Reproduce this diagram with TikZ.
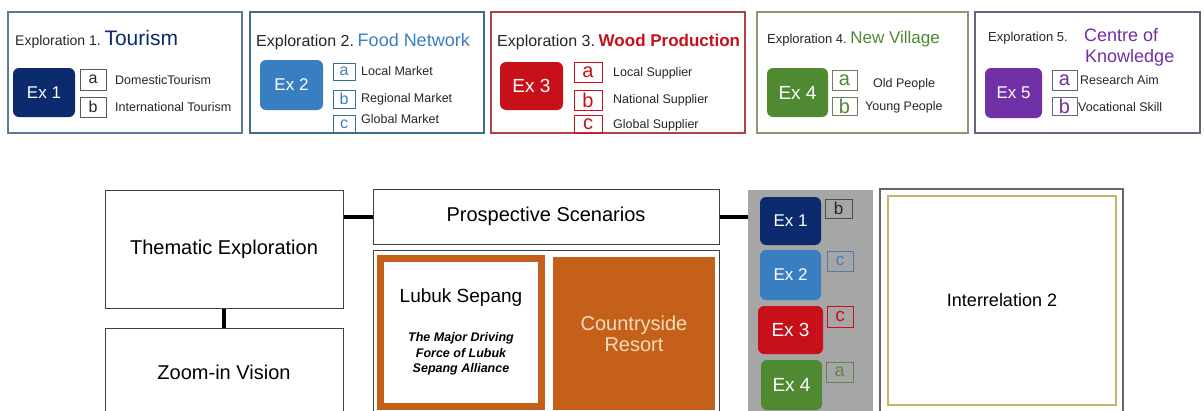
\documentclass[tikz,border=0pt]{standalone}
\usepackage{fontspec}
\setmainfont{Liberation Sans}
\definecolor{navy}{HTML}{0B2B6E}
\definecolor{exblue}{HTML}{3A7EC2}
\definecolor{exred}{HTML}{C8101A}
\definecolor{exgreen}{HTML}{4F8A32}
\definecolor{expurple}{HTML}{7230A6}
\definecolor{orng}{HTML}{C5601B}
\definecolor{cream}{HTML}{F6DCB8}
\definecolor{panelgray}{HTML}{A6A6A6}
\definecolor{goldline}{HTML}{C9B26A}
\definecolor{bdone}{HTML}{5A7A96}
\definecolor{bdtwo}{HTML}{3F6F8F}
\definecolor{bdthree}{HTML}{B0404A}
\definecolor{bdfour}{HTML}{8A9A7A}
\definecolor{bdfive}{HTML}{6E6080}
\newcommand\fsz[2]{\fontsize{#1}{#2}\selectfont}
\begin{document}
\begin{tikzpicture}[x=1pt,y=-1pt,
  topbox/.style={draw=#1, line width=1.1pt, inner sep=0pt},
  exbox/.style={fill=#1, rounded corners=6pt, text=white, inner sep=0pt, font=\fsz{17}{19}},
  letbox/.style={draw=#1, line width=0.9pt, inner sep=0pt, text=#1},
  sub/.style={anchor=west, inner sep=0pt, font=\fsz{12.5}{14}, text=black!85},
  ttl/.style={anchor=base west, inner sep=0pt, text=black!85},
  plainbox/.style={draw=black!75, line width=1pt, inner sep=0pt, fill=white},
  conn/.style={line width=4pt, black}
]
\clip (0,0) rectangle (1204,410);
\fill[white] (0,0) rectangle (1204,410);

% ---------- top row ----------
\node[topbox=bdone, minimum width=234pt, minimum height=121pt] (b1) at (125,72.5) {};
\node[topbox=bdtwo, minimum width=234pt, minimum height=121pt] (b2) at (367,72.5) {};
\node[topbox=bdthree, minimum width=254pt, minimum height=121pt] (b3) at (618,72.5) {};
\node[topbox=bdfour, minimum width=211pt, minimum height=121pt] (b4) at (862.5,72.5) {};
\node[topbox=bdfive, minimum width=225pt, minimum height=121pt] (b5) at (1087.5,72.5) {};

% titles
\node[ttl] (t1) at (15,45) {{\fsz{14}{16}Exploration 1.} {\fsz{21}{24}\color{navy}Tourism}};
\node[ttl] (t2) at (256,46) {{\fsz{16}{18}Exploration 2.} {\fsz{18}{20}\color{exblue}Food Network}};
\node[ttl] (t3) at (497,46) {{\fsz{16}{18}Exploration 3.} {\fsz{17}{20}\bfseries\color{exred}Wood Production}};
\node[ttl] (t4) at (767,43) {{\fsz{13}{15}Exploration 4.} {\fsz{17}{20}\color{exgreen}New Village}};
\node[ttl] (t5) at (988,41) {\fsz{13}{15}Exploration 5.};
\node[ttl, text=expurple] (t5b) at (1084,41) {\fsz{18}{20}Centre of};
\node[ttl, text=expurple] (t5c) at (1085,62) {\fsz{18}{20}Knowledge};

% Ex boxes
\node[exbox=navy, minimum width=62pt, minimum height=49pt] (e1) at (44,92.5) {Ex 1};
\node[exbox=exblue, minimum width=63pt, minimum height=50pt] (e2) at (291.5,85) {Ex 2};
\node[exbox=exred, minimum width=63pt, minimum height=48pt, font=\fsz{19}{21}] (e3) at (531.5,86) {Ex 3};
\node[exbox=exgreen, minimum width=61pt, minimum height=49pt, font=\fsz{19}{21}] (e4) at (797.5,92.5) {Ex 4};
\node[exbox=expurple, minimum width=57pt, minimum height=50pt] (e5) at (1013.5,93) {Ex 5};

% letter boxes box1
\node[letbox=black!65, text=black!85, minimum width=26pt, minimum height=21pt, font=\fsz{16}{18}] (l1a) at (93,79.5) {a};
\node[letbox=black!65, text=black!85, minimum width=26pt, minimum height=20pt, font=\fsz{16}{18}] (l1b) at (93,107) {b};
\node[sub] (s1a) at (115,80) {DomesticTourism};
\node[sub] (s1b) at (115,107) {International Tourism};

% box2
\node[letbox=bdtwo, text=exblue, minimum width=22pt, minimum height=17pt, font=\fsz{16}{18}] (l2a) at (344,71.5) {a};
\node[letbox=bdtwo, text=exblue, minimum width=22pt, minimum height=18pt, font=\fsz{16}{18}] (l2b) at (344,99) {b};
\node[letbox=bdtwo, text=exblue, minimum width=22pt, minimum height=18pt, font=\fsz{16}{18}] (l2c) at (344,124) {c};
\node[sub] (s2a) at (361,71) {Local Market};
\node[sub] (s2b) at (361,99) {Regional Market};
\node[sub] (s2c) at (361,119) {Global Market};

% box3
\node[letbox=exred, minimum width=28pt, minimum height=20pt, font=\fsz{20}{22}] (l3a) at (588,72) {a};
\node[letbox=exred, minimum width=28pt, minimum height=20pt, font=\fsz{20}{22}] (l3b) at (588,100) {b};
\node[letbox=exred, minimum width=28pt, minimum height=18pt, font=\fsz{20}{22}] (l3c) at (588,124) {c};
\node[sub] (s3a) at (613,73) {Local Supplier};
\node[sub] (s3b) at (613,100) {National Supplier};
\node[sub] (s3c) at (613,125) {Global Supplier};

% box4
\node[letbox=bdfour!80!black, text=exgreen, minimum width=25pt, minimum height=20pt, font=\fsz{20}{22}] (l4a) at (844.5,80) {a};
\node[letbox=bdfour!80!black, text=exgreen, minimum width=25pt, minimum height=18pt, font=\fsz{20}{22}] (l4b) at (844.5,106) {b};
\node[sub] (s4a) at (873,84) {Old People};
\node[sub] (s4b) at (865,107) {Young People};

% box5
\node[letbox=bdfive, text=expurple, minimum width=25pt, minimum height=20pt, font=\fsz{20}{22}] (l5a) at (1064.5,80) {a};
\node[letbox=bdfive, text=expurple, minimum width=25pt, minimum height=18pt, font=\fsz{20}{22}] (l5b) at (1064.5,106) {b};
\node[sub] (s5a) at (1080,80) {Research Aim};
\node[sub] (s5b) at (1078,107) {Vocational Skill};

% ---------- bottom ----------
\node[plainbox, minimum width=238pt, minimum height=118pt, font=\fsz{20}{22}] (them) at (224,249) {Thematic Exploration};
\node[plainbox, minimum width=238pt, minimum height=88pt, font=\fsz{20}{22}] (zoom) at (224,372) {Zoom-in Vision};
\node[plainbox, minimum width=346pt, minimum height=55pt, font=\fsz{20}{22}] (pros) at (546,216.5) {Prospective Scenarios};
\node[plainbox, minimum width=346pt, minimum height=170pt] (scen) at (546,335) {};

\node[draw=orng, line width=7pt, fill=white, minimum width=161pt, minimum height=148pt, inner sep=0pt] (lub) at (460.5,332) {};
\node[inner sep=0pt, font=\fsz{19}{21}] (lubt) at (461,298) {Lubuk Sepang};
\node[inner sep=0pt, align=center, font=\fsz{12.5}{15.5}\bfseries\itshape] (lubs) at (461,354) {The Major Driving\\Force of Lubuk\\Sepang Alliance};

\node[fill=orng, minimum width=162pt, minimum height=153pt, inner sep=0pt, text=cream, align=center, font=\fsz{20}{21}] (resort) at (634,333.5) {Countryside\\Resort};

% gray panel
\node[fill=panelgray, minimum width=125pt, minimum height=230pt, inner sep=0pt] (panel) at (810.5,305) {};
\node[exbox=navy, minimum width=61pt, minimum height=48pt] (p1) at (790.5,221) {Ex 1};
\node[exbox=exblue, minimum width=61pt, minimum height=50pt] (p2) at (790.5,275) {Ex 2};
\node[exbox=exred, minimum width=65pt, minimum height=48pt, font=\fsz{19}{21}] (p3) at (790.5,330) {Ex 3};
\node[exbox=exgreen, minimum width=61pt, minimum height=50pt, font=\fsz{19}{21}] (p4) at (791.5,385) {Ex 4};
\node[letbox=black!70, text=black!85, minimum width=27pt, minimum height=19pt, font=\fsz{17}{19}] (q1) at (838.5,208.5) {b};
\node[letbox=exblue!80!gray, text=exblue!80!gray, minimum width=26pt, minimum height=20pt, font=\fsz{17}{19}] (q2) at (840,261) {c};
\node[letbox=exred, text=exred, minimum width=26pt, minimum height=21pt, font=\fsz{19}{21}] (q3) at (840,316.5) {c};
\node[letbox=exgreen!70!gray, text=exgreen!70!gray, minimum width=27pt, minimum height=20pt, font=\fsz{18}{20}] (q4) at (839.5,372) {a};

% interrelation
\node[draw=black!60, line width=1.2pt, minimum width=243pt, minimum height=231pt, inner sep=0pt] (inter) at (1001.5,304.5) {};
\node[draw=goldline, line width=1.2pt, minimum width=228pt, minimum height=209pt, inner sep=0pt, font=\fsz{18}{20}] (intin) at (1002,300.5) {Interrelation 2};

% connectors
\draw[conn] (pros.west -| them.east) -- (pros.west);
\draw[conn] (them.south) -- (zoom.north);
\draw[conn] (pros.east) -- (pros.east -| panel.west);
\end{tikzpicture}
\end{document}
